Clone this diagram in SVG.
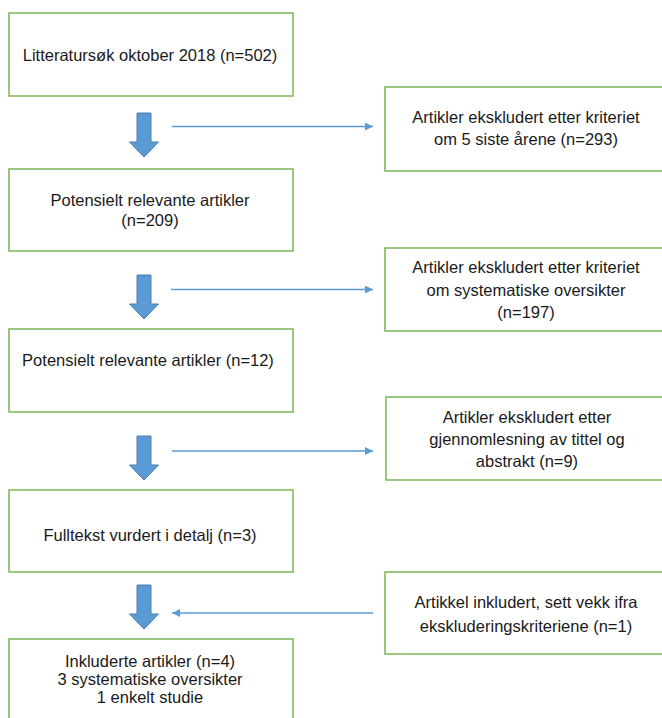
<svg xmlns="http://www.w3.org/2000/svg" width="662" height="718" viewBox="0 0 662 718">
<style>
.box{fill:#fff;stroke:#80BB5E;stroke-width:1.6}
.t{font-family:"Liberation Sans",Arial,sans-serif;font-size:16.5px;fill:#1a1a1a;text-anchor:middle}
.blk{fill:#5B9BD5;stroke:#4A7FB0;stroke-width:1}
.ln{stroke:#5B9BD5;stroke-width:1.3;fill:none;marker-end:url(#ah)}
</style>
<defs>
<marker id="ah" viewBox="0 0 10 10" refX="10" refY="5" markerWidth="8" markerHeight="8" markerUnits="userSpaceOnUse" orient="auto">
<path d="M0,0 L10,5 L0,10 z" fill="#5B9BD5"/>
</marker>
<path id="blkarrow" d="M-7,0 H7 V29 H14.5 L0,44 L-14.5,29 H-7 Z"/>
</defs>
<rect width="662" height="718" fill="#fff"/>
<g id="n1"><rect class="box" x="9" y="13" width="284" height="83"/><text class="t" x="150" y="61">Litteratursøk oktober 2018 (n=502)</text></g>
<g id="n2"><rect class="box" x="9" y="169" width="284" height="82"/><text class="t" x="150" y="206">Potensielt relevante artikler</text><text class="t" x="150" y="226">(n=209)</text></g>
<g id="n3"><rect class="box" x="9" y="329" width="284" height="83"/><text class="t" x="148" y="366">Potensielt relevante artikler (n=12)</text></g>
<g id="n4"><rect class="box" x="9" y="490" width="284" height="82"/><text class="t" x="150" y="541">Fulltekst vurdert i detalj (n=3)</text></g>
<g id="n5"><rect class="box" x="9" y="639" width="284" height="100"/><text class="t" x="150" y="667">Inkluderte artikler (n=4)</text><text class="t" x="150" y="685">3 systematiske oversikter</text><text class="t" x="150" y="703">1 enkelt studie</text></g>
<g id="r1"><rect class="box" x="385" y="87" width="290" height="84"/><text class="t" x="526" y="123">Artikler ekskludert etter kriteriet</text><text class="t" x="526" y="145">om 5 siste årene (n=293)</text></g>
<g id="r2"><rect class="box" x="385" y="248" width="290" height="83"/><text class="t" x="526" y="273">Artikler ekskludert etter kriteriet</text><text class="t" x="526" y="296">om systematiske oversikter</text><text class="t" x="526" y="318">(n=197)</text></g>
<g id="r3"><rect class="box" x="386" y="397" width="290" height="83"/><text class="t" x="527" y="423">Artikler ekskludert etter</text><text class="t" x="527" y="445">gjennomlesning av tittel og</text><text class="t" x="527" y="467">abstrakt (n=9)</text></g>
<g id="r4"><rect class="box" x="385" y="572" width="290" height="82"/><text class="t" x="526" y="608">Artikkel inkludert, sett vekk ifra</text><text class="t" x="526" y="632">ekskluderingskriteriene (n=1)</text></g>
<g id="connectors">
<use href="#blkarrow" class="blk" x="144" y="113"/>
<use href="#blkarrow" class="blk" x="144" y="275"/>
<use href="#blkarrow" class="blk" x="144" y="436"/>
<use href="#blkarrow" class="blk" x="144" y="585"/>
<line class="ln" x1="172" y1="126.5" x2="373" y2="126.5"/>
<line class="ln" x1="171" y1="289.5" x2="373" y2="289.5"/>
<line class="ln" x1="172" y1="451" x2="373" y2="451"/>
<line class="ln" x1="373" y1="613" x2="172" y2="613"/>
</g>
</svg>
